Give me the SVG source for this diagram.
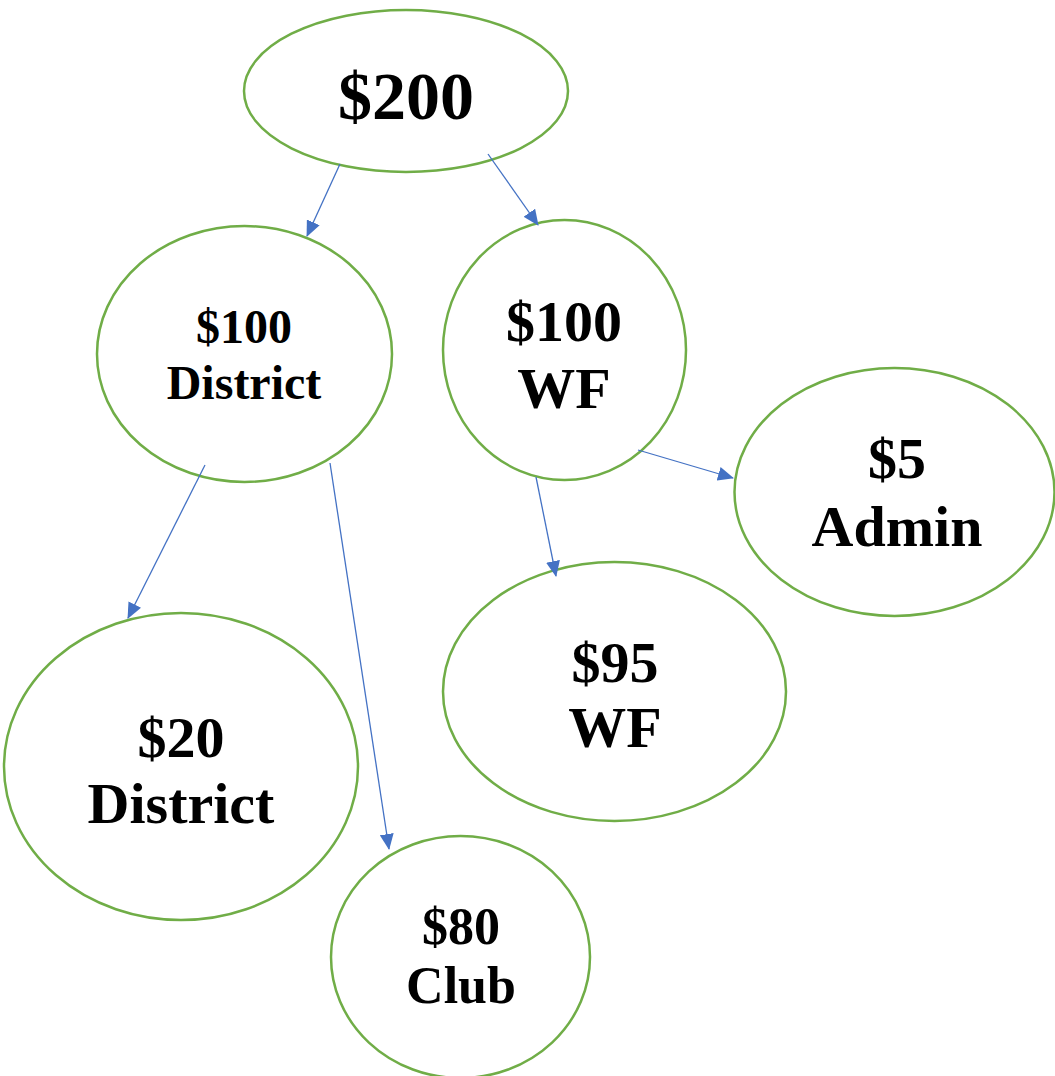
<svg xmlns="http://www.w3.org/2000/svg" width="1055" height="1076" viewBox="0 0 1055 1076">
<style>
.node ellipse{fill:#fff;stroke:#70AD47;stroke-width:2.5}
.node text{font-family:"Liberation Serif","Times New Roman",serif;font-weight:bold;fill:#000;text-anchor:middle}
.conn line{stroke:#4472C4;stroke-width:1.3;marker-end:url(#ah)}
</style>
<defs>
<marker id="ah" markerUnits="userSpaceOnUse" markerWidth="16" markerHeight="14" refX="15" refY="7" orient="auto">
<path d="M0,0 L16,7 L0,14 Z" fill="#4472C4"/>
</marker>
</defs>
<rect width="1055" height="1076" fill="#fff"/>
<g id="n200" class="node">
<ellipse cx="406" cy="91" rx="162" ry="81"/>
<text x="406" y="119" font-size="68">$200</text>
</g>
<g id="n100d" class="node">
<ellipse cx="244.5" cy="354" rx="147.5" ry="128"/>
<text x="244" y="343" font-size="48">$100</text>
<text x="244" y="399" font-size="48">District</text>
</g>
<g id="n100wf" class="node">
<ellipse cx="564.5" cy="350" rx="121.5" ry="130"/>
<text x="564" y="341" font-size="58">$100</text>
<text x="564" y="408" font-size="58">WF</text>
</g>
<g id="n5" class="node">
<ellipse cx="894.5" cy="492" rx="160" ry="124"/>
<text x="897" y="478" font-size="58">$5</text>
<text x="897" y="546" font-size="58">Admin</text>
</g>
<g id="n95" class="node">
<ellipse cx="614.5" cy="691.5" rx="171.5" ry="129.5"/>
<text x="615" y="682" font-size="58">$95</text>
<text x="615" y="747" font-size="58">WF</text>
</g>
<g id="n20" class="node">
<ellipse cx="181" cy="766.5" rx="177" ry="153.5"/>
<text x="181" y="757" font-size="58">$20</text>
<text x="181" y="823" font-size="58">District</text>
</g>
<g id="n80" class="node">
<ellipse cx="460.5" cy="957" rx="129.5" ry="121"/>
<text x="461" y="944" font-size="52">$80</text>
<text x="461" y="1003" font-size="52">Club</text>
</g>
<g id="connectors" class="conn">
<line x1="340" y1="164" x2="307" y2="236"/>
<line x1="488" y1="154" x2="538" y2="225"/>
<line x1="205" y1="465" x2="128" y2="618"/>
<line x1="330" y1="463" x2="389" y2="849"/>
<line x1="536" y1="477" x2="556" y2="576"/>
<line x1="638" y1="450" x2="733" y2="478"/>
</g>
</svg>
